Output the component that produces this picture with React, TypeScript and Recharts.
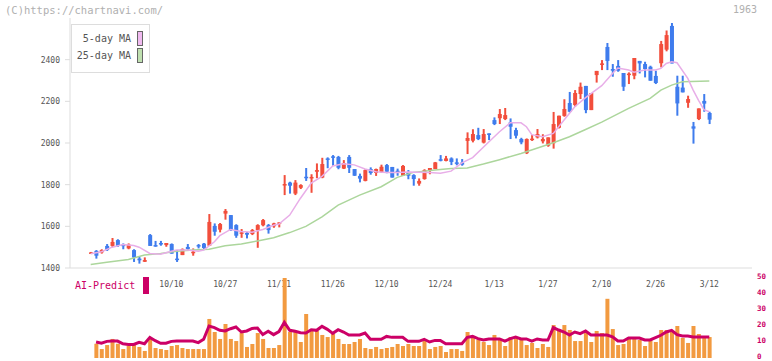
import React from "react";
import { ComposedChart, Bar, Line, XAxis, YAxis } from "recharts";

const dates = [
  "9/18", "9/19", "9/22", "9/24", "9/25", "9/26", "9/29", "9/30", "10/1", "10/2",
  "10/3", "10/6", "10/7", "10/8", "10/9", "10/10", "10/14", "10/15", "10/16", "10/17",
  "10/20", "10/21", "10/22", "10/23", "10/24", "10/27", "10/28", "10/29", "10/30", "10/31",
  "11/4", "11/5", "11/6", "11/7", "11/10", "11/11", "11/12", "11/13", "11/14", "11/17",
  "11/18", "11/19", "11/20", "11/21", "11/25", "11/26", "11/27", "11/28", "12/1", "12/2",
  "12/3", "12/4", "12/5", "12/8", "12/9", "12/10", "12/11", "12/12", "12/15", "12/16",
  "12/17", "12/18", "12/19", "12/22", "12/23", "12/24", "12/25", "12/26", "12/29", "12/30",
  "1/5", "1/6", "1/7", "1/8", "1/9", "1/13", "1/14", "1/15", "1/16", "1/19",
  "1/20", "1/21", "1/22", "1/23", "1/26", "1/27", "1/28", "1/29", "1/30", "2/2",
  "2/3", "2/4", "2/5", "2/6", "2/9", "2/10", "2/12", "2/13", "2/16", "2/17",
  "2/18", "2/19", "2/20", "2/24", "2/25", "2/26", "2/27", "3/2", "3/3", "3/4",
  "3/5", "3/6", "3/9", "3/10", "3/11", "3/12",
];

const open = [
  1475, 1482, 1475, 1506, 1506, 1534, 1512, 1494, 1486, 1445,
  1430, 1558, 1510, 1520, 1510, 1515, 1445, 1462, 1501, 1473,
  1510, 1517, 1507, 1602, 1584, 1661, 1654, 1606, 1565, 1568,
  1563, 1582, 1605, 1606, 1600, 1614, 1797, 1810, 1757, 1785,
  1838, 1834, 1862, 1834, 1926, 1936, 1933, 1877, 1933, 1875,
  1842, 1818, 1875, 1856, 1861, 1894, 1885, 1867, 1843, 1856,
  1846, 1805, 1827, 1866, 1875, 1922, 1914, 1926, 1907, 1906,
  2010, 2011, 2038, 2002, 2046, 2110, 2119, 2115, 2099, 2062,
  2019, 1951, 2016, 2027, 2008, 1987, 1999, 2073, 2130, 2192,
  2182, 2235, 2274, 2158, 2326, 2376, 2461, 2355, 2370, 2336,
  2326, 2323, 2394, 2379, 2366, 2322, 2383, 2448, 2562, 2270,
  2266, 2193, 2080, 2115, 2202, 2144,
];
const high = [
  1477, 1486, 1490, 1515, 1544, 1538, 1518, 1518, 1490, 1453,
  1451, 1563, 1530, 1530, 1520, 1518, 1486, 1494, 1515, 1494,
  1515, 1520, 1659, 1614, 1616, 1683, 1654, 1610, 1587, 1573,
  1587, 1610, 1635, 1611, 1617, 1619, 1846, 1814, 1822, 1802,
  1880, 1850, 1902, 1929, 1931, 1942, 1938, 1918, 1942, 1875,
  1853, 1874, 1883, 1877, 1896, 1899, 1885, 1877, 1894, 1870,
  1850, 1830, 1874, 1880, 1909, 1942, 1938, 1931, 1926, 1923,
  2051, 2066, 2073, 2067, 2046, 2123, 2163, 2168, 2118, 2073,
  2025, 2022, 2038, 2067, 2042, 2027, 2149, 2131, 2210, 2245,
  2254, 2290, 2274, 2240, 2346, 2398, 2480, 2379, 2398, 2336,
  2339, 2408, 2394, 2390, 2371, 2347, 2490, 2540, 2576, 2323,
  2323, 2227, 2101, 2166, 2235, 2150,
];
const low = [
  1473, 1445, 1469, 1482, 1501, 1501, 1490, 1490, 1429, 1421,
  1429, 1506, 1502, 1507, 1502, 1469, 1429, 1462, 1486, 1459,
  1494, 1486, 1507, 1555, 1571, 1632, 1578, 1545, 1545, 1542,
  1558, 1497, 1600, 1565, 1593, 1595, 1750, 1757, 1750, 1779,
  1818, 1761, 1831, 1831, 1879, 1890, 1874, 1875, 1856, 1842,
  1811, 1816, 1848, 1842, 1857, 1855, 1834, 1843, 1842, 1826,
  1795, 1795, 1824, 1850, 1875, 1912, 1912, 1894, 1893, 1891,
  1947, 2003, 2014, 1998, 2014, 2086, 2091, 2110, 2019, 2022,
  1994, 1947, 2010, 2022, 1998, 1982, 1973, 2070, 2126, 2147,
  2174, 2211, 2143, 2158, 2290, 2350, 2350, 2318, 2342, 2250,
  2283, 2306, 2334, 2315, 2299, 2283, 2363, 2440, 2382, 2131,
  2243, 2169, 1997, 2110, 2150, 2091,
];
const close = [
  1475, 1459, 1486, 1486, 1525, 1506, 1506, 1512, 1450, 1437,
  1438, 1506, 1506, 1515, 1520, 1469, 1440, 1491, 1491, 1478,
  1506, 1496, 1621, 1574, 1611, 1674, 1582, 1555, 1571, 1560,
  1582, 1606, 1630, 1582, 1614, 1619, 1803, 1795, 1810, 1798,
  1834, 1837, 1870, 1899, 1922, 1930, 1881, 1904, 1881, 1843,
  1829, 1870, 1856, 1875, 1886, 1862, 1834, 1861, 1890, 1843,
  1827, 1818, 1870, 1880, 1907, 1915, 1926, 1909, 1902, 1896,
  2024, 2043, 2019, 2043, 2040, 2091, 2139, 2134, 2078, 2035,
  2003, 2019, 2021, 2043, 2019, 2027, 2091, 2131, 2163, 2150,
  2240, 2270, 2158, 2240, 2346, 2382, 2394, 2347, 2347, 2270,
  2333, 2408, 2382, 2355, 2299, 2288, 2475, 2518, 2382, 2190,
  2243, 2211, 2069, 2166, 2189, 2112,
];

// volume (x10,000 shares), first day has none
const volume = [
  null, 8.9, 5.6, 8.1, 11.9, 8.9, 5.6, 7.5, 8.75, 6.9,
  4.4, 11.9, 6.25, 5.6, 5, 7.5, 8.1, 6.25, 5.6, 5.6,
  5.6, 5.6, 24.4, 16.25, 11.9, 21.25, 11.9, 10.6, 15.6, 6.9,
  8.75, 15.6, 11.9, 6.25, 6.25, 8.1, 55, 16.25, 16.9, 10,
  27.5, 17.5, 16.9, 14.4, 13.1, 15, 11.9, 8.75, 8.75, 10,
  11.9, 6.25, 5.6, 6.9, 5.6, 6.25, 6.9, 8.75, 7.5, 8.75,
  7.5, 7.5, 10.6, 5.6, 6.9, 7.5, 3.75, 5.6, 5.6, 4.4,
  16.25, 13.75, 11.25, 10, 8.1, 14.4, 11.25, 7.5, 13.1, 13.1,
  11.25, 8.1, 9.4, 6.25, 8.75, 6.9, 20.6, 18.1, 20.6, 17.5,
  10.6, 10.6, 15.6, 10, 16.9, 15.6, 37, 18.1, 8.1, 8.75,
  13.1, 12.5, 11.25, 7.5, 11.9, 10, 17.5, 17.5, 16.25, 20,
  12.5, 9.4, 20, 15, 12.5, 13.1,
];

const aiPredict = [
  null, 10, 9.2, 10.4, 10.6, 10.6, 8.9, 8.5, 8.5, 9.8,
  8.9, 12.9, 10.8, 9.2, 9.2, 10.4, 10.6, 10.6, 10.6, 10.6,
  9.6, 11.7, 20, 19, 17.3, 16.9, 18.3, 19.4, 16.25, 16.9,
  18.5, 18.75, 14.6, 16.7, 14.6, 16.5, 22.3, 17.3, 16.7, 15.8,
  15.6, 17.7, 17.3, 19.8, 17.9, 15.4, 17.7, 16.25, 14.4, 14.4,
  14.4, 15.6, 11.7, 11.7, 11.7, 13.5, 12.9, 12.9, 12.9, 10.4,
  10.4, 10.4, 11.7, 10, 11, 11, 8.9, 8.9, 8.9, 8.9,
  12.9, 13.5, 12.1, 11.25, 11.9, 11.9, 11.9, 10.6, 12.1, 13.1,
  11.9, 11.9, 10.6, 11.9, 11.25, 11.25, 19, 17.5, 16.25, 14.4,
  16.25, 15.2, 16.9, 14.4, 14.4, 14.4, 14.4, 13.3, 10.6, 10.6,
  12.5, 12.5, 12.5, 11.25, 11.25, 12.7, 14.2, 16.25, 17.3, 14.6,
  13.75, 13.75, 13.1, 13.1, 13.1, 13.1,
];

const ma5Points: [string, number][] = [
  ["9/18", 1468], ["9/22", 1478], ["9/25", 1500], ["9/29", 1513], ["10/1", 1508],
  ["10/2", 1500], ["10/6", 1470], ["10/8", 1466], ["10/10", 1480], ["10/14", 1486],
  ["10/16", 1486], ["10/20", 1480], ["10/21", 1486], ["10/23", 1526], ["10/24", 1555],
  ["10/28", 1585], ["10/30", 1575], ["11/4", 1572], ["11/6", 1585], ["11/10", 1605],
  ["11/11", 1611], ["11/13", 1654], ["11/17", 1735], ["11/19", 1808], ["11/21", 1840],
  ["11/26", 1890], ["11/28", 1900], ["12/2", 1895], ["12/4", 1875], ["12/8", 1862],
  ["12/10", 1858], ["12/12", 1858], ["12/16", 1861], ["12/18", 1860], ["12/22", 1858],
  ["12/24", 1855], ["12/26", 1865], ["12/30", 1905], ["1/6", 1930], ["1/9", 2005],
  ["1/14", 2054], ["1/16", 2097], ["1/20", 2097], ["1/21", 2078], ["1/22", 2040],
  ["1/26", 2030], ["1/28", 2046], ["1/30", 2110], ["2/3", 2174], ["2/5", 2218],
  ["2/10", 2275], ["2/13", 2334], ["2/16", 2360], ["2/18", 2350], ["2/19", 2340],
  ["2/24", 2350], ["2/26", 2350], ["2/27", 2358], ["3/2", 2382], ["3/3", 2390],
  ["3/4", 2385], ["3/6", 2310], ["3/9", 2254], ["3/10", 2205], ["3/11", 2160],
  ["3/12", 2150],
];

const ma25Points: [string, number][] = [
  ["9/18", 1417], ["9/24", 1428], ["9/30", 1441], ["10/3", 1462], ["10/8", 1470],
  ["10/14", 1480], ["10/17", 1486], ["10/22", 1490], ["10/27", 1507], ["10/30", 1515],
  ["11/5", 1530], ["11/10", 1545], ["11/13", 1570], ["11/18", 1600], ["11/21", 1645],
  ["11/27", 1702], ["12/3", 1750], ["12/9", 1790], ["12/12", 1835], ["12/17", 1859],
  ["12/23", 1870], ["12/26", 1878], ["1/5", 1880], ["1/8", 1899], ["1/14", 1920],
  ["1/20", 1950], ["1/28", 2001], ["2/2", 2030], ["2/5", 2065], ["2/10", 2100],
  ["2/18", 2166], ["2/25", 2214], ["2/27", 2254], ["3/3", 2278], ["3/5", 2294],
  ["3/12", 2298],
];

const dateTicks = ["10/10", "10/27", "11/11", "11/26", "12/10", "12/24", "1/13", "1/27", "2/10", "2/26", "3/12"];
const priceTicks = [1400, 1600, 1800, 2000, 2200, 2400];
const volumeTicks = [0, 10, 20, 30, 40, 50];
// the price axis carries 11 evenly spaced tick marks
const axisMarks = [0, 1, 2, 3, 4, 5, 6, 7, 8, 9, 10, 11];

const RED = "#f24e3c";
const BLUE = "#3f7ced";
const MAGENTA = "#cc0066";
const MONO = "'DejaVu Sans Mono', monospace";

const ma5Map = new Map(ma5Points);
const ma25Map = new Map(ma25Points);

const rows = dates.map((d, i) => ({
  date: d,
  range: [low[i], high[i]],
  o: open[i],
  h: high[i],
  l: low[i],
  c: close[i],
  ma5: ma5Map.get(d) ?? null,
  ma25: ma25Map.get(d) ?? null,
  vol: volume[i],
  ai: aiPredict[i],
}));

const xPadding = { left: 18, right: 40 };

function Candle(props: any) {
  const { x, y, width, height, payload } = props;
  const { o, h, l, c } = payload;
  const color = c >= o ? RED : BLUE;
  const span = h - l;
  const py = (v: number) => (span === 0 ? y : y + ((h - v) / span) * height);
  const cx = x + width / 2;
  const top = py(Math.max(o, c));
  const bot = py(Math.min(o, c));
  return (
    <g>
      <rect x={cx - 1} y={y} width={2} height={Math.max(height, 1)} fill={color} />
      <rect x={x} y={top} width={width} height={Math.max(bot - top, 1.5)} fill={color} />
    </g>
  );
}

export default function App() {
  return (
    <div style={{ position: "absolute", left: 0, top: 0, width: 772, height: 361, background: "#fff", overflow: "hidden" }}>
      <div style={{ position: "absolute", left: 5, top: 4, fontFamily: MONO, fontSize: 10.5, color: "#b0b0b0" }}>
        (C)https://chartnavi.com/
      </div>
      <div style={{ position: "absolute", right: 15, top: 4, fontFamily: MONO, fontSize: 10, color: "#b0b0b0" }}>
        1963
      </div>

      <div style={{ position: "absolute", left: 0, top: 0 }}>
        <ComposedChart width={772} height={300} data={rows} margin={{ top: 18, right: 20, bottom: 2, left: 0 }}>
          <XAxis
            xAxisId="t"
            type="number"
            domain={[0, 11]}
            allowDataOverflow
            ticks={axisMarks}
            height={0}
            axisLine={false}
            tick={false}
            tickSize={3}
            tickLine={{ stroke: "#dddddd" }}
          />
          <XAxis
            xAxisId="d"
            dataKey="date"
            type="category"
            ticks={dateTicks}
            interval={0}
            padding={xPadding}
            height={30}
            axisLine={{ stroke: "#dddddd" }}
            tickLine={false}
            tickSize={0}
            tickMargin={13}
            tick={{ fontFamily: MONO, fontSize: 8, fill: "#555" }}
          />
          <YAxis
            domain={[1400, 2600]}
            ticks={priceTicks}
            width={70}
            axisLine={{ stroke: "#dddddd" }}
            tickLine={{ stroke: "#dddddd" }}
            tickSize={5}
            tickMargin={5}
            tick={{ fontFamily: MONO, fontSize: 8, fill: "#555" }}
          />
          <Line xAxisId="d" dataKey="ma25" stroke="#acd69c" strokeWidth={1.5} dot={false} connectNulls isAnimationActive={false} />
          <Line xAxisId="d" dataKey="ma5" stroke="#e8aee8" strokeWidth={1.5} dot={false} connectNulls isAnimationActive={false} />
          <Bar xAxisId="d" dataKey="range" barSize={4} shape={<Candle />} isAnimationActive={false} />
        </ComposedChart>
      </div>

      <div style={{ position: "absolute", left: 0, top: 0 }}>
        <ComposedChart width={772} height={361} data={rows} margin={{ top: 278, right: 0, bottom: 3, left: 70 }}>
          <XAxis dataKey="date" type="category" hide padding={xPadding} />
          <YAxis
            yAxisId="v"
            orientation="right"
            domain={[0, 50]}
            allowDataOverflow
            ticks={volumeTicks}
            interval={0}
            width={20}
            axisLine={false}
            tickLine={false}
            tickSize={0}
            tickMargin={5}
            tick={{ fontFamily: MONO, fontSize: 7.5, fill: MAGENTA, fontWeight: "bold", dy: -1.5 }}
          />
          <Bar yAxisId="v" dataKey="vol" fill="#f29a40" barSize={4} isAnimationActive={false} />
          <Line yAxisId="v" dataKey="ai" stroke={MAGENTA} strokeWidth={3} dot={false} connectNulls isAnimationActive={false} />
        </ComposedChart>
      </div>

      <div
        style={{
          position: "absolute", left: 71, top: 24, width: 77, height: 47,
          border: "1px solid #dddddd", background: "#fff",
          fontFamily: MONO, fontSize: 10, color: "#555",
        }}
      >
        {[
          { label: "5-day MA", color: "#f0baf0", top: 6 },
          { label: "25-day MA", color: "#bfe0b0", top: 23 },
        ].map((r) => (
          <div key={r.label} style={{ position: "absolute", right: 6, top: r.top, display: "flex", alignItems: "center" }}>
            <span style={{ marginRight: 6 }}>{r.label}</span>
            <span style={{ display: "inline-block", width: 4, height: 13, background: r.color, border: "1px solid #666" }} />
          </div>
        ))}
      </div>

      <div style={{ position: "absolute", left: 75, top: 280, fontFamily: MONO, fontSize: 10, color: MAGENTA }}>
        AI-Predict
      </div>
      <div style={{ position: "absolute", left: 143, top: 277, width: 6, height: 17, background: MAGENTA }} />
    </div>
  );
}
